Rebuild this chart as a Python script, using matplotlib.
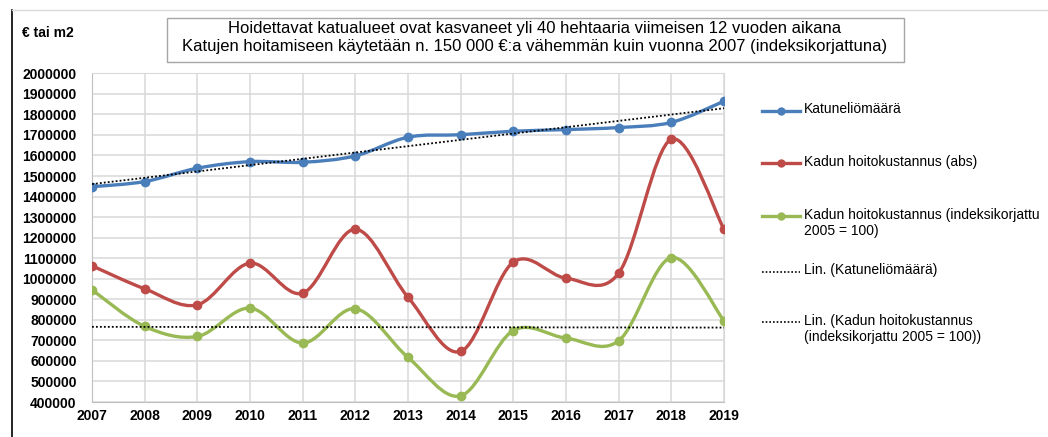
import numpy as np
import matplotlib.pyplot as plt
from matplotlib.path import Path
from matplotlib.patches import PathPatch, Rectangle
from matplotlib.lines import Line2D

# arvot luettu kuvasta
vuodet = [2007, 2008, 2009, 2010, 2011, 2012, 2013, 2014, 2015, 2016, 2017, 2018, 2019]
katuneliot = [1448000, 1473000, 1538000, 1570000, 1567000, 1598000, 1689000,
              1701000, 1718000, 1726000, 1736000, 1761000, 1864000]
kustannus_abs = [1063000, 951000, 873000, 1076000, 930000, 1241000, 910000,
                 646000, 1081000, 1003000, 1027000, 1679000, 1241000]
kustannus_ind = [946000, 768000, 719000, 857000, 687000, 854000, 617000,
                 430000, 748000, 711000, 698000, 1103000, 795000]

otsikko1 = "Hoidettavat katualueet ovat kasvaneet yli 40 hehtaaria viimeisen 12 vuoden aikana"
otsikko2 = "Katujen hoitamiseen käytetään n. 150 000 €:a vähemmän kuin vuonna 2007 (indeksikorjattuna)"

SININEN = "#4A7EBB"
PUNAINEN = "#BE4B48"
VIHREA = "#98B954"
W, H = 1048, 437


def pehmea_polku(x, y):
    # Excel-tyyppinen pehmennetty viiva (bezier)
    p = np.column_stack([x, y]).astype(float)
    n = len(p)
    verts = [p[0]]
    codes = [Path.MOVETO]
    for i in range(n - 1):
        edel = p[i - 1] if i > 0 else p[i]
        seur = p[i + 2] if i + 2 < n else p[i + 1]
        verts += [p[i] + (p[i + 1] - edel) / 6, p[i + 1] - (seur - p[i]) / 6, p[i + 1]]
        codes += [Path.CURVE4] * 3
    return Path(verts, codes)


def fx(px):
    return px / W


def fy(py):
    return 1 - py / H


plt.rcParams['font.family'] = ['Liberation Sans', 'DejaVu Sans']

fig = plt.figure(figsize=(W / 100, H / 100), dpi=100)
ax = fig.add_axes([fx(92), fy(402), fx(724) - fx(92), fy(73.3) - fy(402)])

for arvot, vari in [(katuneliot, SININEN), (kustannus_abs, PUNAINEN), (kustannus_ind, VIHREA)]:
    ax.add_patch(PathPatch(pehmea_polku(vuodet, arvot), fill=False, edgecolor=vari,
                           lw=2.4, capstyle='round', joinstyle='round', zorder=3))
    ax.plot(vuodet, arvot, 'o', color=vari, ms=6, zorder=4)

# lineaariset trendit
x = np.array(vuodet)
for arvot in [katuneliot, kustannus_ind]:
    k, b = np.polyfit(x, arvot, 1)
    ax.plot(x, k * x + b, color='black', lw=1.3, ls=(0, (1, 1.2)), zorder=5)

ax.set_xlim(2007, 2019)
ax.set_ylim(400000, 2000000)
ax.set_xticks(vuodet)
ax.set_yticks(range(400000, 2000001, 100000))
ax.set_yticklabels([str(v) for v in range(400000, 2000001, 100000)])
ax.tick_params(length=0, labelsize=10)
ax.tick_params(axis='y', pad=11)
ax.tick_params(axis='x', pad=5)
for lbl in ax.get_xticklabels() + ax.get_yticklabels():
    lbl.set_fontweight('bold')
ax.grid(True, color='#D9D9D9', lw=1.1)
ax.set_axisbelow(True)
for s in ['top', 'right']:
    ax.spines[s].set_color('#D9D9D9')
for s in ['left', 'bottom']:
    ax.spines[s].set_color('#BFBFBF')

# kehys ja otsikkolaatikko
fig.add_artist(Line2D([fx(12), fx(12)], [fy(10), 0], color='black', lw=1.2))
fig.add_artist(Line2D([fx(12), 1], [fy(10), fy(10)], color='#D9D9D9', lw=1.0))
fig.add_artist(Rectangle((fx(167), fy(62)), fx(904) - fx(167), fy(18) - fy(62),
                         fill=False, edgecolor='#A6A6A6', lw=1.0))
fig.text(fx(535), fy(28.5), otsikko1, ha='center', va='center', fontsize=12)
fig.text(fx(535), fy(46.5), otsikko2, ha='center', va='center', fontsize=12)
fig.text(fx(22), fy(33), "€ tai m2", ha='left', va='center', fontsize=10, fontweight='bold')

# selite
selite = [
    (110.7, SININEN, '-', "Katuneliömäärä"),
    (163.3, PUNAINEN, '-', "Kadun hoitokustannus (abs)"),
    (216, VIHREA, '-', "Kadun hoitokustannus (indeksikorjattu\n2005 = 100)"),
    (271.7, 'black', ':', "Lin. (Katuneliömäärä)"),
    (322.3, 'black', ':', "Lin. (Kadun hoitokustannus\n(indeksikorjattu 2005 = 100))"),
]
for y, vari, tyyli, teksti in selite:
    if tyyli == '-':
        fig.add_artist(Line2D([fx(762), fx(800)], [fy(y), fy(y)], color=vari, lw=2.4))
        fig.add_artist(Line2D([fx(781)], [fy(y)], color=vari, marker='o', ms=5))
    else:
        fig.add_artist(Line2D([fx(762), fx(800)], [fy(y), fy(y)], color=vari, lw=1.2,
                              ls=(0, (1, 1.2))))
    fig.text(fx(804), fy(y - 8.5), teksti, ha='left', va='top', fontsize=10, linespacing=1.2)

fig.savefig("out.png", dpi=100)
